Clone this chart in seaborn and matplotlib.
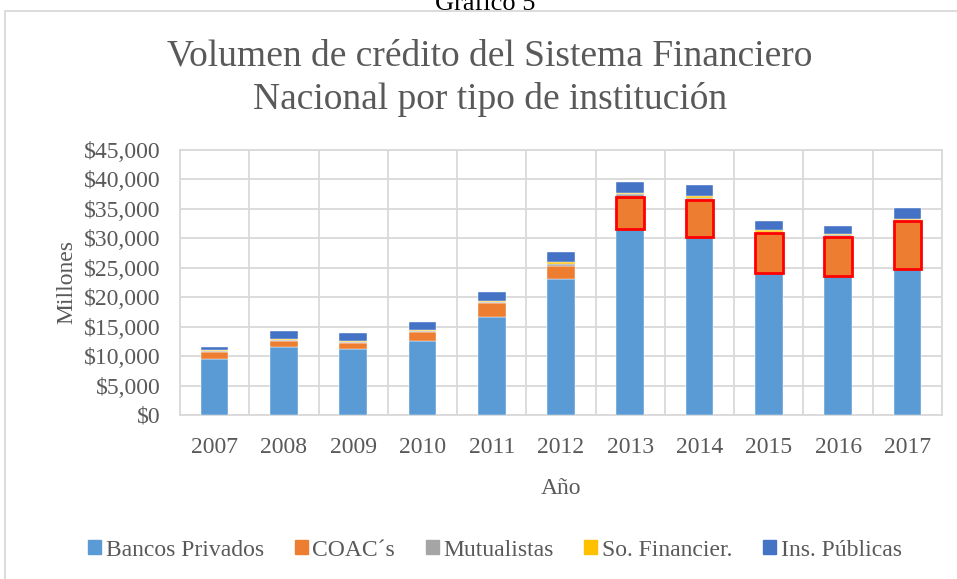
import matplotlib.pyplot as plt
import matplotlib.patches as mpatches
import numpy as np
import seaborn as sns

# Datos (millones de USD)
anios = ["2007", "2008", "2009", "2010", "2011", "2012", "2013", "2014", "2015", "2016", "2017"]
bancos_privados = [9460, 11500, 11160, 12620, 16690, 23090, 31530, 30170, 24160, 23600, 24840]
coacs = [1190, 1010, 1020, 1420, 2280, 2260, 5540, 6340, 6690, 6680, 8150]
mutualistas = [200, 200, 200, 200, 200, 350, 400, 400, 300, 250, 150]
so_financieras = [150, 150, 200, 150, 200, 300, 300, 300, 250, 200, 100]
ins_publicas = [500, 1400, 1340, 1400, 1520, 1730, 1740, 1790, 1490, 1360, 1960]

series = ["Bancos Privados", "COAC´s", "Mutualistas", "So. Financier.", "Ins. Públicas"]
colores = ["#5B9BD5", "#ED7D31", "#A5A5A5", "#FFC000", "#4472C4"]

sns.set_theme(style="white")
plt.rcParams["font.family"] = ["Liberation Serif", "DejaVu Serif"]
gris = "#595959"


def main():
    fig = plt.figure(figsize=(9.57, 5.79), dpi=100)
    ax = fig.add_axes([180 / 957, 1 - 415 / 579, 762 / 957, 265 / 579])

    valores = [bancos_privados, coacs, mutualistas, so_financieras, ins_publicas]
    base = np.zeros(len(anios))
    barras_coac = None
    for nombre, vals, color in zip(series, valores, colores):
        sns.barplot(x=anios, y=vals, bottom=base.copy(), color=color, width=0.4,
                    saturation=1, errorbar=None, ax=ax, edgecolor="#FFFFFF",
                    linewidth=0.3, label=nombre, zorder=3)
        if nombre == "COAC´s":
            barras_coac = ax.containers[-1]
        base = base + np.array(vals)

    # contorno rojo en COAC 2013-2017
    for i, rect in enumerate(barras_coac):
        if i >= 6:
            rect.set_edgecolor("#FF0000")
            rect.set_linewidth(2)
            rect.set_zorder(4)

    ax.set_xlim(-0.5, len(anios) - 0.5)
    ax.set_ylim(0, 45000)
    ax.set_yticks(np.arange(0, 45001, 5000))
    ax.set_yticklabels([f"${v:,.0f}" for v in np.arange(0, 45001, 5000)])
    ax.set_xticks(np.arange(len(anios)), minor=False)
    ax.set_xticks(np.arange(-0.5, len(anios)), minor=True)

    ax.grid(False)
    ax.yaxis.grid(True, color="#D9D9D9", linewidth=1.3, zorder=0)
    ax.xaxis.grid(True, which="minor", color="#D9D9D9", linewidth=1.3, zorder=0)
    ax.set_axisbelow(True)
    for s in ax.spines.values():
        s.set_color("#D9D9D9")
        s.set_linewidth(1.3)
    ax.tick_params(axis="both", which="both", length=0, labelsize=17, colors=gris)
    ax.tick_params(axis="y", pad=14)
    ax.tick_params(axis="x", pad=16)
    ax.set_xlabel("Año", fontsize=17, color=gris, labelpad=14)
    ax.set_ylabel("Millones", fontsize=17, color=gris, labelpad=5)
    if ax.legend_:
        ax.legend_.remove()

    fig.text(490 / 957, 1 - 78 / 579, "Volumen de crédito del Sistema Financiero\nNacional por tipo de institución",
             ha="center", va="center", fontsize=27, color=gris, linespacing=1.35)
    fig.text(485 / 957, 1 - 10 / 579, "Gráfico 5", ha="center", va="baseline", fontsize=19, color="black")

    # marco exterior
    fig.patches.append(mpatches.Rectangle((5 / 957, -0.05), 1.0, 1 - 11 / 579 + 0.05,
                                          transform=fig.transFigure, fill=False,
                                          edgecolor="#D9D9D9", linewidth=1.3))

    handles = [mpatches.Patch(color=c, label=n) for n, c in zip(series, colores)]
    fig.legend(handles=handles, loc="center", bbox_to_anchor=(495 / 957, 1 - 550 / 579), ncol=5,
               frameon=False, fontsize=17, handlelength=0.55, handleheight=0.55, handletextpad=0.2,
               columnspacing=1.3, labelcolor=gris)

    fig.savefig("out.png", dpi=100)
    plt.close(fig)


if __name__ == "__main__":
    main()
